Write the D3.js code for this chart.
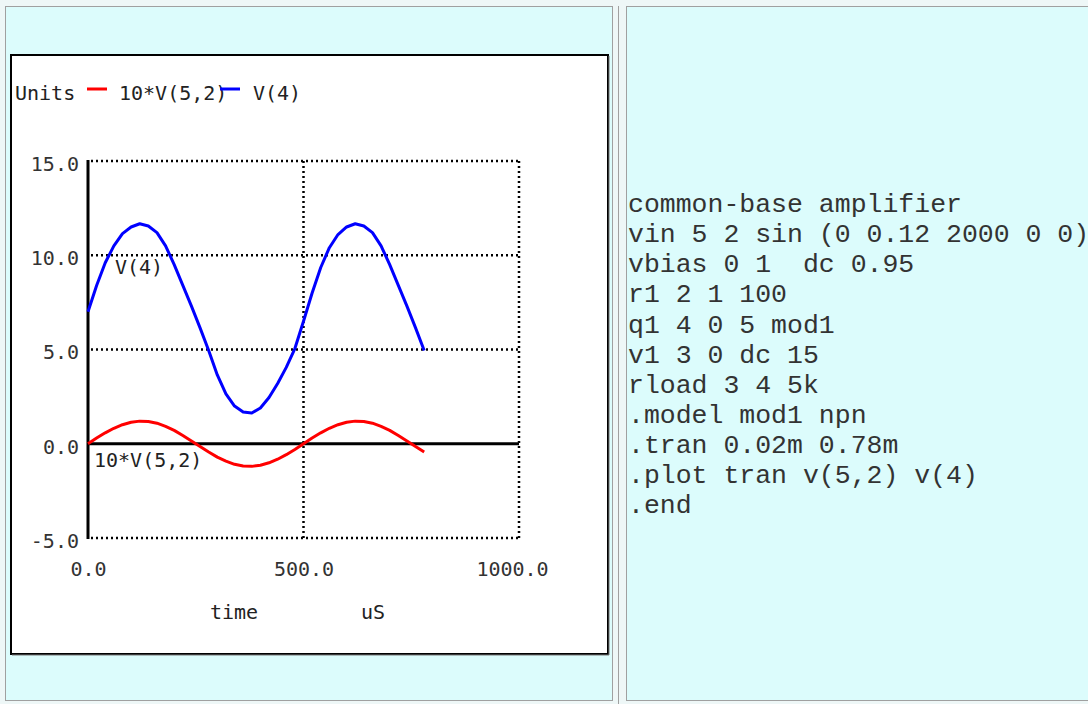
<!DOCTYPE html>
<html>
<head>
<meta charset="utf-8">
<script src="https://cdn.jsdelivr.net/npm/d3@7"></script>
<style>
  body { margin: 0; background: #eef7f7; }
  svg { display: block; }
  .mono { font-family: "DejaVu Sans Mono", monospace; font-size: 20px; fill: #222; }
  .netlist { font-family: "Liberation Mono", "Courier New", monospace; font-size: 26.5px; fill: #333; }
</style>
</head>
<body>
<div id="chart"></div>
<script>
'use strict';

// transient analysis samples, time in uS
const times = [0, 20, 40, 60, 80, 100, 120, 140, 160, 180,
  200, 220, 240, 260, 280, 300, 320, 340, 360, 380,
  400, 420, 440, 460, 480, 500, 520, 540, 560, 580,
  600, 620, 640, 660, 680, 700, 720, 740, 760, 780];

// 10*V(5,2)
const vInput = [0, 0.30, 0.58, 0.82, 1.01, 1.14, 1.20, 1.18, 1.09, 0.92,
  0.71, 0.44, 0.15, -0.15, -0.44, -0.71, -0.92, -1.09, -1.18, -1.20,
  -1.14, -1.01, -0.82, -0.58, -0.30, 0, 0.30, 0.58, 0.82, 1.01,
  1.14, 1.20, 1.18, 1.09, 0.92, 0.71, 0.44, 0.15, -0.15, -0.44];

// V(4)
const vOutput = [7.0, 8.4, 9.6, 10.5, 11.15, 11.5, 11.67, 11.55, 11.2, 10.5,
  9.5, 8.4, 7.3, 6.15, 4.95, 3.65, 2.65, 2.0, 1.68, 1.63,
  1.9, 2.45, 3.2, 4.05, 5.05, 6.5, 8.0, 9.35, 10.4, 11.1,
  11.5, 11.67, 11.55, 11.2, 10.5, 9.5, 8.4, 7.3, 6.15, 4.95];

const seriesNames = ['10*V(5,2)', 'V(4)'];
const seriesColors = ['#ff0000', '#0000ff'];

const yTicks = [-5, 0, 5, 10, 15];
const xTicks = [0, 500, 1000];
const yGrid = [15, 10, 5, -5];
const xGrid = [500, 1000];

const netlist = [
  'common-base amplifier',
  'vin 5 2 sin (0 0.12 2000 0 0)',
  'vbias 0 1  dc 0.95',
  'r1 2 1 100',
  'q1 4 0 5 mod1',
  'v1 3 0 dc 15',
  'rload 3 4 5k',
  '.model mod1 npn',
  '.tran 0.02m 0.78m',
  '.plot tran v(5,2) v(4)',
  '.end'
];

const width = 1088, height = 704;
const svg = d3.select('#chart').append('svg')
  .attr('width', width)
  .attr('height', height);

// page frame: two table cells
svg.append('rect').attr('x', 5.5).attr('y', 6.5).attr('width', 607).attr('height', 694)
  .attr('fill', '#dcfcfc').attr('stroke', '#a0a0a0');
svg.append('rect').attr('x', 626.5).attr('y', 6.5).attr('width', 470).attr('height', 694)
  .attr('fill', '#dcfcfc').attr('stroke', '#a0a0a0');
svg.append('line').attr('x1', 618.5).attr('x2', 618.5).attr('y1', 6).attr('y2', 704)
  .attr('stroke', '#a0a0a0');

// chart box
svg.append('rect').attr('x', 11).attr('y', 55).attr('width', 597).attr('height', 599)
  .attr('fill', '#fff').attr('stroke', '#000').attr('stroke-width', 2);
svg.append('path').attr('d', 'M609,56V655H12')
  .attr('fill', 'none').attr('stroke', '#777').attr('stroke-width', 1);

const x = d3.scaleLinear().domain([0, 1000]).range([88, 519]);
const y = d3.scaleLinear().domain([-5, 15]).range([538, 161]);

// dotted grid
const grid = svg.append('g')
  .attr('stroke', '#000').attr('stroke-width', 2.5).attr('stroke-dasharray', '2,3');
grid.selectAll('line.h').data(yGrid).enter().append('line')
  .attr('class', 'h')
  .attr('x1', x(0) + 3).attr('x2', x(1000) + 1)
  .attr('y1', d => y(d)).attr('y2', d => y(d));
grid.selectAll('line.v').data(xGrid).enter().append('line')
  .attr('class', 'v')
  .attr('x1', d => x(d)).attr('x2', d => x(d))
  .attr('y1', y(15)).attr('y2', y(-5));

// solid axes through zero
svg.append('line').attr('x1', x(0)).attr('x2', x(0)).attr('y1', y(15) - 1).attr('y2', y(-5) + 1)
  .attr('stroke', '#000').attr('stroke-width', 3);
svg.append('line').attr('x1', x(0)).attr('x2', x(1000)).attr('y1', y(0)).attr('y2', y(0))
  .attr('stroke', '#000').attr('stroke-width', 3);

// tick labels via d3 axes
const fmt = d => d.toFixed(1);
const yAxis = svg.append('g')
  .attr('transform', `translate(${x(0)},0)`)
  .call(d3.axisLeft(y).tickValues(yTicks).tickFormat(fmt).tickSize(0).tickPadding(9));
const xAxis = svg.append('g')
  .attr('transform', `translate(0,${y(-5)})`)
  .call(d3.axisBottom(x).tickValues(xTicks).tickFormat(fmt).tickSize(0).tickPadding(24));
[yAxis, xAxis].forEach(g => {
  g.select('.domain').remove();
  g.attr('font-family', null).attr('font-size', null);
  g.selectAll('text').attr('class', 'mono').attr('fill', null).style('fill', '#333');
});
yAxis.selectAll('text').attr('dy', '0.47em');
// last label sits a little left of its tick in the original
xAxis.selectAll('text').filter(d => d === 1000).attr('dx', -7);

// series lines
const line = d3.line()
  .x((d, i) => x(times[i]))
  .y(d => y(d));
[vInput, vOutput].forEach((vals, i) => {
  svg.append('path')
    .datum(vals)
    .attr('d', line)
    .attr('fill', 'none')
    .attr('stroke', seriesColors[i])
    .attr('stroke-width', 3)
    .attr('stroke-linejoin', 'round');
});

// inline labels
svg.append('text').attr('class', 'mono').attr('x', 94).attr('y', 467).text(seriesNames[0]);
svg.append('text').attr('class', 'mono').attr('x', 115).attr('y', 274).text(seriesNames[1]);

// legend
svg.append('text').attr('class', 'mono').attr('x', 15).attr('y', 100).text('Units');
const legendX = [[87, 107, 119], [220, 240, 253]];
seriesNames.forEach((name, i) => {
  svg.append('line')
    .attr('x1', legendX[i][0]).attr('x2', legendX[i][1])
    .attr('y1', 89).attr('y2', 89)
    .attr('stroke', seriesColors[i]).attr('stroke-width', 3);
  svg.append('text').attr('class', 'mono').attr('x', legendX[i][2]).attr('y', 100).text(name);
});

// axis titles
svg.append('text').attr('class', 'mono').attr('x', 210).attr('y', 619).text('time');
svg.append('text').attr('class', 'mono').attr('x', 361).attr('y', 619).text('uS');

// netlist text
svg.append('g').selectAll('text').data(netlist).enter().append('text')
  .attr('class', 'netlist')
  .attr('x', 628)
  .attr('y', (d, i) => 212 + i * 30.13)
  .attr('xml:space', 'preserve')
  .style('white-space', 'pre')
  .text(d => d);
</script>
</body>
</html>
